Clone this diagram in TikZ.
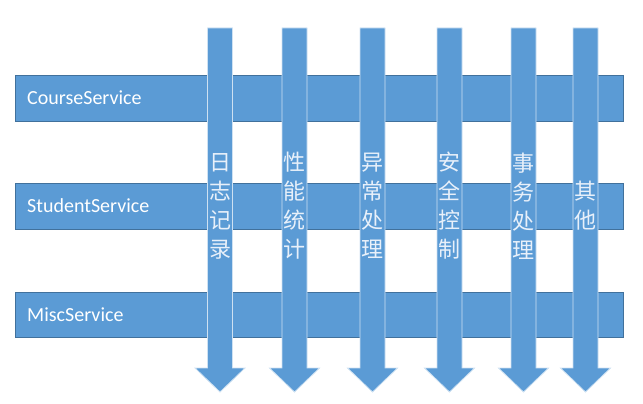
\documentclass[tikz,border=0pt]{standalone}
\usepackage{fontspec}
\setmainfont{Carlito}
\newfontfamily\cjk{Noto Sans CJK SC}
\definecolor{barblue}{RGB}{91,155,213}
\definecolor{edgeblue}{RGB}{65,113,156}
\definecolor{txtc}{RGB}{232,240,250}
\begin{document}
\begin{tikzpicture}[x=1pt,y=-1pt,
  hbar/.style={fill=barblue,draw=edgeblue,line width=0.4pt},
  varrow/.style={fill=barblue,draw=white!70!barblue,line width=0.8pt},
  lab/.style={anchor=west,text=white,font=\fontsize{20}{24}\selectfont,inner sep=0pt},
  vlab/.style={text=txtc,font=\cjk\fontsize{22}{29}\selectfont,align=center,inner sep=0pt}]
\useasboundingbox (0,0) rectangle (643,404);
\fill[hbar] (15,75) rectangle (623,121);
\fill[hbar] (15,183) rectangle (623,229);
\fill[hbar] (15,292) rectangle (623,337);
\node[lab] (c) at (27,98) {CourseService};
\node[lab] (s) at (27,206) {StudentService};
\node[lab] (m) at (27,315) {MiscService};
\foreach \cx/\n/\t in {220/a/{日\\志\\记\\录},294.5/b/{性\\能\\统\\计},372.5/c/{异\\常\\处\\理},449.5/d/{安\\全\\控\\制},523.5/e/{事\\务\\处\\理},585.5/f/{其\\他}}{
  \draw[varrow] (\cx-12.5,28) -- (\cx+12.5,28) -- (\cx+12.5,368) -- (\cx+25,368) -- (\cx,392) -- (\cx-25,368) -- (\cx-12.5,368) -- cycle;
  \node[vlab] (v\n) at (\cx,206) {\t};
}
\end{tikzpicture}
\end{document}
